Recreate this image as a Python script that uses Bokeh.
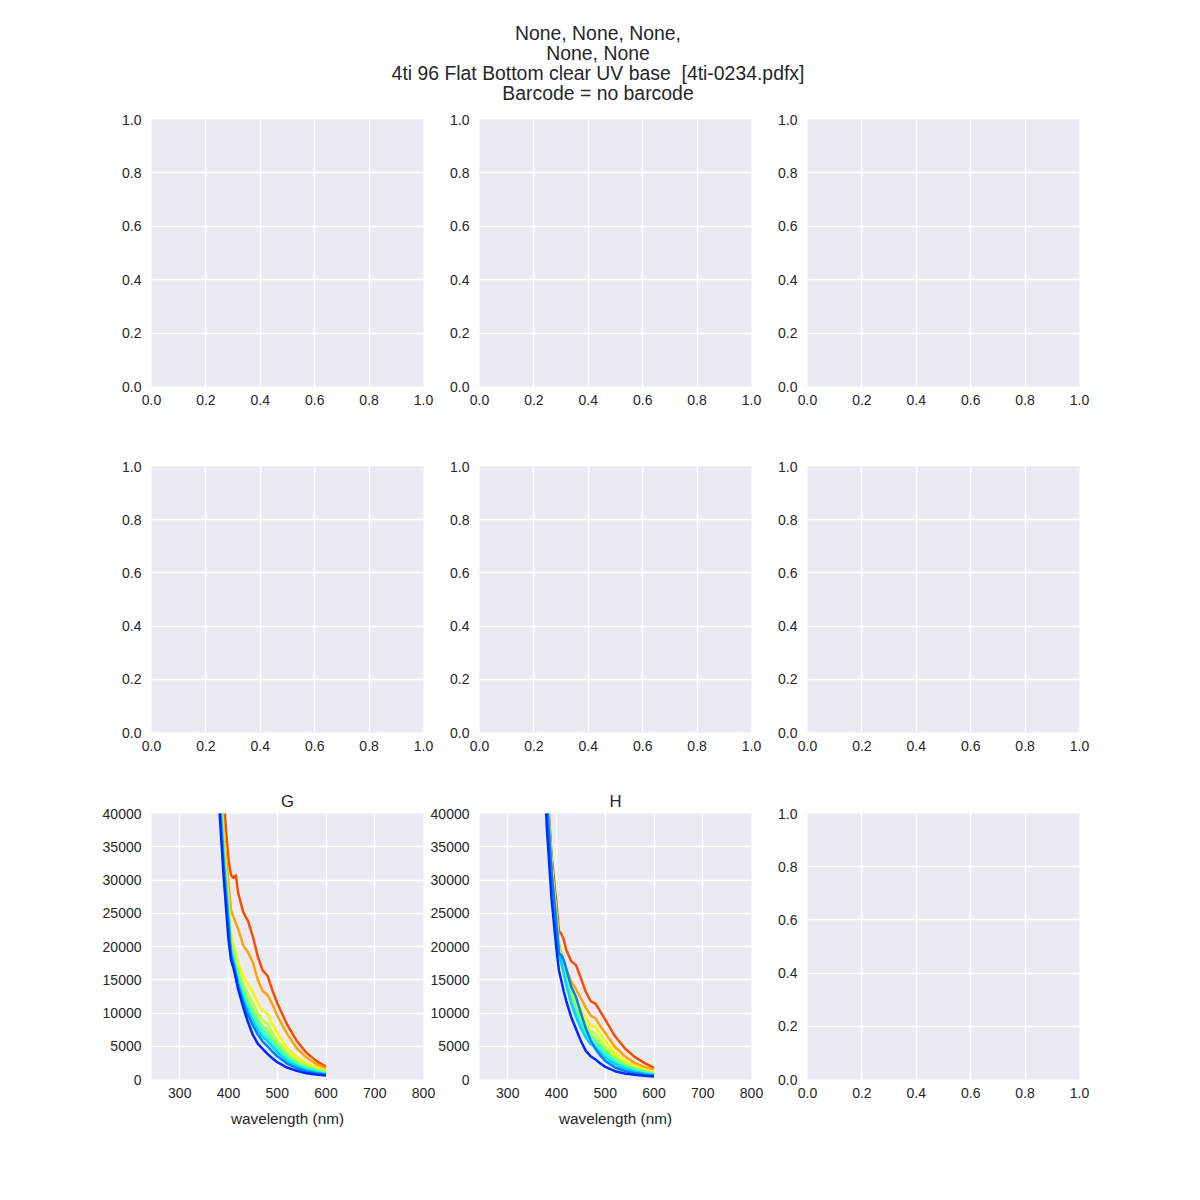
from bokeh.embed import file_html
from bokeh.resources import INLINE
from bokeh.layouts import column, row
from bokeh.models import Div, Range1d, FixedTicker, PrintfTickFormatter
from bokeh.plotting import figure

FONT = "Liberation Sans"
INK = "#262626"
PANEL_BG = "#EAEAF2"

# ---- data -------------------------------------------------------------
title_lines = ["None, None, None,", "None, None",
               "4ti 96 Flat Bottom clear UV base&nbsp; [4ti-0234.pdfx]",
               "Barcode = no barcode"]

wavelength = [370, 380, 390, 400, 405, 410, 415, 420, 430, 440, 450,
              460, 470, 480, 490, 500, 520, 540, 560, 580, 600]

# jet-like colours, drawn first (red) to last (blue)
line_colors = ["#ff4a00", "#ffa400", "#f4f802", "#c1ff36", "#8cff6a",
               "#5aff9d", "#29ffce", "#00d4ff", "#0080ff", "#0028ff"]

# row G
g_red = [70000, 54000, 42000, 33000, 30800, 30300, 30700, 28000, 25200, 23800, 21500,
         18500, 16400, 15600, 13400, 11500, 8300, 5800, 4000, 2800, 1900]
g_orange = [65000, 50000, 38000, 29500, 25500, 24500, 23500, 22600, 20200, 19100, 17600,
            15000, 13300, 12700, 11300, 9600, 6900, 4700, 3300, 2300, 1600]
g_yellow = [63000, 48500, 36000, 27000, 22000, 20500, 19000, 17500, 15600, 14300, 13200,
            11600, 10300, 9900, 8300, 7000, 4800, 3400, 2400, 1800, 1350]
g_lime = [62000, 47500, 35000, 26000, 21000, 19500, 18000, 16500, 14500, 12800, 11500,
          10000, 8900, 8400, 7000, 5900, 4100, 2900, 2100, 1550, 1200]
g_lightgreen = [61500, 47000, 34500, 25500, 20500, 19000, 17400, 16000, 13800, 12000, 10600,
                9200, 8000, 7500, 6300, 5300, 3700, 2600, 1900, 1400, 1100]
g_green = [61000, 46500, 34000, 25000, 20000, 18600, 17000, 15500, 13200, 11400, 9900,
           8600, 7400, 6900, 5800, 4900, 3400, 2400, 1750, 1300, 1000]
g_aqua = [60500, 46000, 33500, 24500, 19600, 18200, 16600, 15000, 12700, 10900, 9300,
          8000, 6900, 6300, 5300, 4500, 3100, 2200, 1600, 1200, 900]
g_cyan = [60000, 45000, 33000, 24000, 19200, 17800, 16200, 14500, 12200, 10300, 8800,
          7500, 6400, 5800, 4900, 4100, 2800, 2000, 1450, 1050, 800]
g_lightblue = [59000, 44000, 32000, 23000, 18700, 17300, 15800, 14000, 11600, 9700, 8100,
               6800, 5700, 5000, 4200, 3500, 2400, 1700, 1200, 900, 700]
g_blue = [58000, 42000, 30500, 21000, 18000, 16800, 15200, 13500, 10900, 8600, 6700,
          5400, 4600, 3850, 3200, 2600, 1800, 1300, 950, 750, 600]

# row H
h_red = [62000, 45000, 33500, 26500, 22300, 21900, 21000, 19500, 17800, 17200, 15200,
         13200, 11800, 11400, 10200, 9000, 6500, 4700, 3400, 2500, 1750]
h_orange = [61000, 44000, 32500, 25000, 20500, 19000, 17800, 16600, 14700, 13600, 12200,
            10800, 9600, 9200, 8000, 7000, 4900, 3500, 2500, 1900, 1450]
h_yellow = [60500, 43500, 32000, 24500, 20000, 18500, 17200, 15900, 13600, 12000, 10600,
            9200, 8200, 7900, 6800, 5800, 4000, 2800, 2000, 1500, 1150]
h_lime = [60000, 43200, 31800, 24200, 19800, 18200, 16800, 15400, 13000, 11200, 9700,
          8300, 7300, 6900, 5900, 5000, 3500, 2500, 1800, 1350, 1000]
h_lightgreen = [59800, 43000, 31600, 24000, 19600, 18000, 16500, 15000, 12600, 10700, 9100,
                7700, 6700, 6200, 5300, 4500, 3150, 2250, 1650, 1250, 900]
h_green = [59600, 42800, 31400, 23800, 19400, 17800, 16200, 14700, 12200, 10200, 8600,
           7200, 6200, 5700, 4900, 4100, 2900, 2050, 1500, 1100, 800]
h_aqua = [59400, 42600, 31200, 23600, 19200, 17600, 16000, 14400, 11800, 9800, 8100,
          6700, 5700, 5200, 4400, 3700, 2600, 1850, 1350, 1000, 700]
h_cyan = [59200, 42500, 31100, 23400, 19000, 17500, 15900, 14200, 11500, 9400, 7700,
          6300, 5300, 4800, 4000, 3300, 2300, 1650, 1200, 900, 650]
h_lightblue = [59000, 42500, 31000, 23000, 18900, 18700, 17900, 16600, 14000, 12400, 10000,
               7700, 5900, 4600, 3600, 2800, 1800, 1300, 950, 720, 550]
h_blue = [57000, 38000, 27000, 19500, 16400, 14800, 13200, 11800, 9400, 7600, 5800,
          4300, 3500, 3000, 2400, 1900, 1250, 900, 700, 550, 450]

g_series = [g_red, g_orange, g_yellow, g_lime, g_lightgreen,
            g_green, g_aqua, g_cyan, g_lightblue, g_blue]
h_series = [h_red, h_orange, h_yellow, h_lime, h_lightgreen,
            h_green, h_aqua, h_cyan, h_lightblue, h_blue]

unit_ticks = [0.0, 0.2, 0.4, 0.6, 0.8, 1.0]
wl_ticks = [300, 400, 500, 600, 700, 800]
count_ticks = [0, 5000, 10000, 15000, 20000, 25000, 30000, 35000, 40000]

OVERLAP = 12  # neighbouring figures overlap so edge tick labels are not cut


# ---- helpers ----------------------------------------------------------
def panel(col, top, bottom, fh, title=None, series=None):
    spectra = series is not None
    left = 151 if col == 0 else 56
    p = figure(
        frame_width=272, frame_height=fh,
        min_border_left=left, min_border_right=OVERLAP,
        min_border_top=top, min_border_bottom=bottom,
        margin=(0, 0, 0, 0 if col == 0 else -OVERLAP),
        x_range=Range1d(242, 800) if spectra else Range1d(0, 1),
        y_range=Range1d(0, 40000) if spectra else Range1d(0, 1),
        toolbar_location=None, output_backend="svg",
        background_fill_color=PANEL_BG,
        border_fill_color="white" if col == 0 else None,
        outline_line_color=None,
    )
    p.grid.grid_line_color = "white"
    p.grid.grid_line_width = 1.4

    for ax in p.axis:
        ax.axis_line_color = None
        ax.major_tick_line_color = None
        ax.minor_tick_line_color = None
        ax.major_tick_in = 0
        ax.major_tick_out = 0
        ax.major_label_text_font = FONT
        ax.major_label_text_font_size = "14px"
        ax.major_label_text_color = INK
        ax.axis_label_text_font = FONT
        ax.axis_label_text_font_size = "15.3px"
        ax.axis_label_text_font_style = "normal"
        ax.axis_label_text_color = INK
        ax.axis_label_standoff = 9
    p.xaxis.major_label_standoff = 8
    p.yaxis.major_label_standoff = 10

    if spectra:
        p.xaxis.ticker = FixedTicker(ticks=wl_ticks)
        p.yaxis.ticker = FixedTicker(ticks=count_ticks)
        p.xaxis.formatter = PrintfTickFormatter(format="%d")
        p.yaxis.formatter = PrintfTickFormatter(format="%d")
        p.xaxis.axis_label = "wavelength (nm)"
        for values, color in zip(series, line_colors):
            p.line(wavelength, values, line_color=color, line_width=2.5,
                   line_join="round")
    else:
        p.xaxis.ticker = FixedTicker(ticks=unit_ticks)
        p.yaxis.ticker = FixedTicker(ticks=unit_ticks)
        p.xaxis.formatter = PrintfTickFormatter(format="%.1f")
        p.yaxis.formatter = PrintfTickFormatter(format="%.1f")

    if title:
        p.title.text = title
        p.title.align = "center"
        p.title.text_font = FONT
        p.title.text_font_size = "16.7px"
        p.title.text_font_style = "normal"
        p.title.text_color = INK
        p.title.standoff = 5
    return p


# ---- layout -----------------------------------------------------------
head = Div(
    text=('<div style="width:1196px;text-align:center;'
          'font-family:\'Liberation Sans\';font-size:19.4px;line-height:20px;'
          'color:#262626;padding-top:23px;">'
          + "<br>".join(title_lines) + "</div>"),
    width=1196, height=111, margin=(0, 0, 0, 0),
)

row1 = row(*[panel(c, 8, 40, 267) for c in range(3)])
row2 = row(*[panel(c, 40, 41, 266) for c in range(3)])
row3 = row(panel(0, 40, 60, 266, "G", g_series),
           panel(1, 40, 60, 266, "H", h_series),
           panel(2, 40, 60, 266))

page = column(head, row1, row2, row3)

open("out.html", "w").write(file_html(page, INLINE))
